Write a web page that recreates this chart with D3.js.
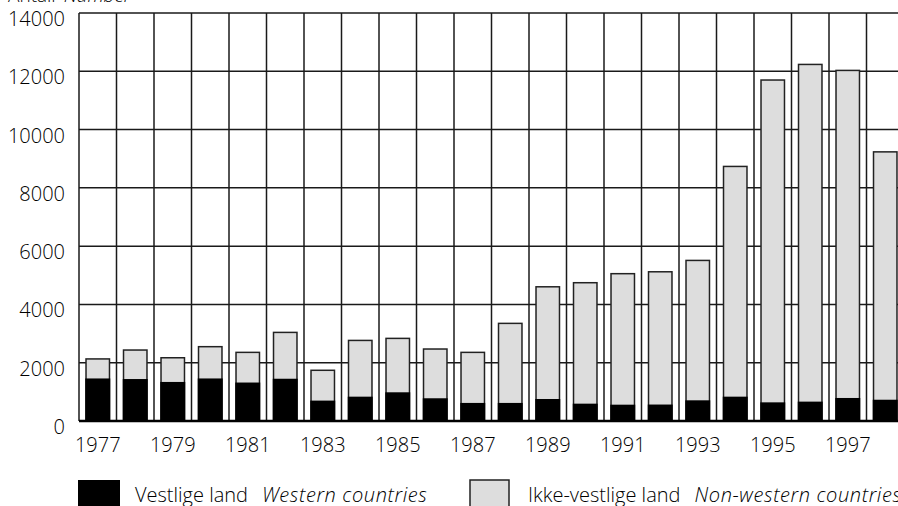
<!DOCTYPE html>
<html>
<head>
<meta charset="utf-8">
<script src="https://cdn.jsdelivr.net/npm/d3@7"></script>
<style>
  body { margin: 0; background: #fff; }
  svg { display: block; font-family: "Open Sans", sans-serif; font-weight: 300; }
</style>
</head>
<body>
<svg id="chart" width="898" height="506"></svg>
<script>
// values
var years = [1977, 1978, 1979, 1980, 1981, 1982, 1983, 1984, 1985, 1986, 1987,
             1988, 1989, 1990, 1991, 1992, 1993, 1994, 1995, 1996, 1997, 1998];
var western = [1460, 1440, 1340, 1460, 1320, 1450, 700, 835, 985, 780, 620,
               620, 755, 595, 560, 565, 710, 835, 640, 665, 790, 730];
var nonWestern = [670, 995, 830, 1090, 1035, 1590, 1040, 1930, 1850, 1690, 1735,
                  2730, 3850, 4150, 4495, 4555, 4800, 7900, 11060, 11570, 11240, 8505];
var yTicks = [0, 2000, 4000, 6000, 8000, 10000, 12000, 14000];
var xTickYears = [1977, 1979, 1981, 1983, 1985, 1987, 1989, 1991, 1993, 1995, 1997];

var plotLeft = 79, plotTop = 13, plotBottom = 421, step = 37.5;
var plotRight = plotLeft + step * years.length;

var data = years.map(function(y, i) {
  return { year: y, western: western[i], nonWestern: nonWestern[i] };
});

var svg = d3.select("#chart");

var x = d3.scaleBand().domain(years).range([plotLeft, plotRight]).padding(0);
var y = d3.scaleLinear().domain([0, 14000]).range([plotBottom, plotTop]);

var barW = x.bandwidth() * 0.626;
var inset = (x.bandwidth() - barW) / 2;

// grid: horizontal
svg.append("g")
  .selectAll("line")
  .data(yTicks)
  .enter().append("line")
    .attr("x1", plotLeft).attr("x2", 898)
    .attr("y1", function(d) { return y(d); })
    .attr("y2", function(d) { return y(d); })
    .attr("stroke", "#1a1a1a")
    .attr("stroke-width", 1.5);

// grid: vertical, at band edges
var edges = years.map(function(d) { return x(d); }).concat([plotRight]);
svg.append("g")
  .selectAll("line")
  .data(edges)
  .enter().append("line")
    .attr("x1", function(d) { return d; }).attr("x2", function(d) { return d; })
    .attr("y1", plotTop).attr("y2", plotBottom)
    .attr("stroke", "#1a1a1a")
    .attr("stroke-width", 1.5);

var stack = d3.stack().keys(["western", "nonWestern"])(data);
var fills = { western: "#000", nonWestern: "#dddddd" };

// non-western box outlines the full bar, western drawn on top
svg.append("g")
  .selectAll("rect")
  .data(stack[1])
  .enter().append("rect")
    .attr("x", function(d) { return x(d.data.year) + inset; })
    .attr("width", barW)
    .attr("y", function(d) { return y(d[1]); })
    .attr("height", function(d) { return y(0) - y(d[1]); })
    .attr("fill", fills.nonWestern)
    .attr("stroke", "#222")
    .attr("stroke-width", 1.5);

svg.append("g")
  .selectAll("rect")
  .data(stack[0])
  .enter().append("rect")
    .attr("x", function(d) { return x(d.data.year) + inset - 0.75; })
    .attr("width", barW + 1.5)
    .attr("y", function(d) { return y(d[1]); })
    .attr("height", function(d) { return y(d[0]) - y(d[1]); })
    .attr("fill", fills.western);

// baseline on top
svg.append("line")
  .attr("x1", plotLeft).attr("x2", 898)
  .attr("y1", y(0)).attr("y2", y(0))
  .attr("stroke", "#000").attr("stroke-width", 2.5);

// y labels
svg.append("g")
  .selectAll("text")
  .data(yTicks)
  .enter().append("text")
    .attr("x", 65)
    .attr("y", function(d) { return y(d) + 13; })
    .attr("text-anchor", "end")
    .attr("font-size", 20)
    .attr("fill", "#000")
    .text(function(d) { return d; });

// x labels
svg.append("g")
  .selectAll("text")
  .data(xTickYears)
  .enter().append("text")
    .attr("x", function(d) { return x(d) + x.bandwidth() / 2; })
    .attr("y", 452)
    .attr("text-anchor", "middle")
    .attr("font-size", 20)
    .attr("fill", "#000")
    .text(function(d) { return d; });

// axis title, cut off at the top
var title = svg.append("text").attr("x", 8).attr("y", 2).attr("font-size", 19).attr("fill", "#000");
title.append("tspan").text("Antall");
title.append("tspan").attr("font-style", "italic").attr("dx", 8).text("Number");

// legend
var legend = [
  { x: 78, fill: fills.western, stroke: "none", label: "Vestlige land", en: "Western countries" },
  { x: 470, fill: fills.nonWestern, stroke: "#222", label: "Ikke-vestlige land", en: "Non-western countries" }
];
var lg = svg.append("g")
  .selectAll("g")
  .data(legend)
  .enter().append("g");
lg.append("rect")
  .attr("x", function(d) { return d.x; })
  .attr("y", 480)
  .attr("width", function(d) { return d.stroke === "none" ? 42 : 39; })
  .attr("height", 30)
  .attr("fill", function(d) { return d.fill; })
  .attr("stroke", function(d) { return d.stroke; })
  .attr("stroke-width", 1.5);
var lt = lg.append("text")
  .attr("x", function(d) { return d.x + (d.stroke === "none" ? 57 : 58); })
  .attr("y", 502)
  .attr("font-size", 20)
  .attr("fill", "#000");
lt.append("tspan").text(function(d) { return d.label; });
lt.append("tspan").attr("font-style", "italic").attr("dx", 14)
  .attr("letter-spacing", 0.6).text(function(d) { return d.en; });
</script>
</body>
</html>
